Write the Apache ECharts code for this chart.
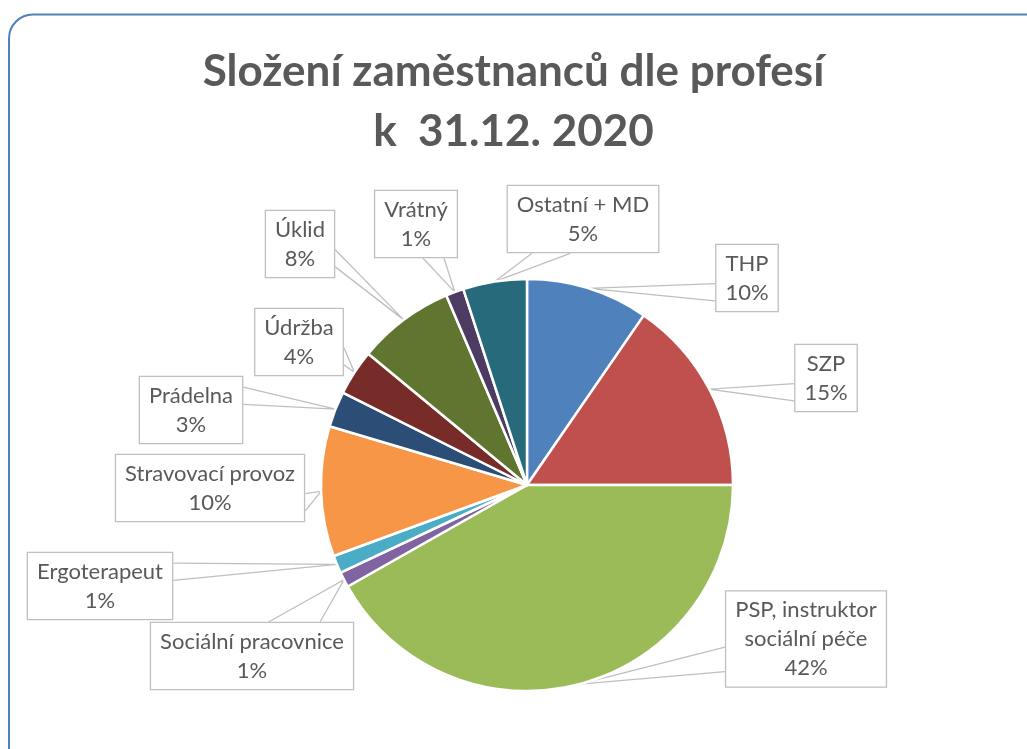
<!DOCTYPE html>
<html lang="cs">
<head>
<meta charset="utf-8">
<title>Složení zaměstnanců dle profesí</title>
<script src="https://cdn.jsdelivr.net/npm/echarts@6/dist/echarts.min.js"></script>
<style>
  html, body { margin: 0; padding: 0; background: #fff; }
  #chart { width: 1027px; height: 749px; }
</style>
</head>
<body>
<div id="chart"></div>
<script>
// Profese (ve směru hodinových ručiček od dvanácté hodiny)
const categories = [
  'THP', 'SZP', 'PSP, instruktor sociální péče', 'Sociální pracovnice',
  'Ergoterapeut', 'Stravovací provoz', 'Prádelna', 'Údržba', 'Úklid',
  'Vrátný', 'Ostatní + MD'
];
// Podíl zaměstnanců v %
const shares = [9.6, 15.4, 41.8, 1.2, 1.4, 10.2, 2.8, 3.6, 7.6, 1.4, 5.0];

const sliceColors = [
  '#4F81BD', '#C0504D', '#9BBB59', '#8064A2', '#4BACC6', '#F79646',
  '#2C4D75', '#772C2A', '#5F7530', '#4D3B62', '#276A7C'
];

// Středy popiskových rámečků (px)
const labelCenters = [
  [747, 278], [826, 378], [806, 639], [252, 656], [100, 586], [210, 488],
  [191, 410], [299, 342], [300, 244], [416, 224], [583, 219]
];

const PIE_CENTER = [527, 485];
const PIE_RADIUS = 206;
const total = shares.reduce((a, b) => a + b, 0);

function wrapName(name, maxLen) {
  const words = name.split(' ');
  const lines = [];
  let cur = '';
  words.forEach(w => {
    const next = cur ? cur + ' ' + w : w;
    if (next.length > maxLen && cur) { lines.push(cur); cur = w; }
    else cur = next;
  });
  if (cur) lines.push(cur);
  return lines.join('\n');
}

// Kotevní bod na okraji výseče (střed úhlu), pokud jej knihovna nepředá
function fallbackAnchor(idx) {
  let before = 0;
  for (let i = 0; i < idx; i++) before += shares[i];
  const mid = (before + shares[idx] / 2) / total * Math.PI * 2;
  return [PIE_CENTER[0] + Math.sin(mid) * PIE_RADIUS, PIE_CENTER[1] - Math.cos(mid) * PIE_RADIUS];
}

const chart = echarts.init(document.getElementById('chart'), null, { renderer: 'canvas' });

chart.setOption({
  backgroundColor: '#ffffff',
  animation: false,
  title: {
    text: 'Složení zaměstnanců dle profesí\nk  31.12. 2020',
    left: 'center',
    top: 37,
    textStyle: {
      fontFamily: 'Lato',
      fontWeight: 'bold',
      fontSize: 44,
      lineHeight: 60,
      color: '#595959'
    }
  },
  graphic: [{
    type: 'rect',
    silent: true,
    shape: { x: 9, y: 14.5, width: 1040, height: 770, r: 24 },
    style: { fill: 'none', stroke: '#4F81BD', lineWidth: 2 }
  }],
  series: [{
    type: 'pie',
    center: PIE_CENTER,
    radius: PIE_RADIUS,
    startAngle: 90,
    clockwise: true,
    avoidLabelOverlap: false,
    data: categories.map((name, i) => ({
      name: name,
      value: shares[i],
      itemStyle: { color: sliceColors[i] }
    })),
    itemStyle: { borderColor: '#ffffff', borderWidth: 2.5 },
    emphasis: { disabled: true },
    label: {
      show: true,
      position: 'outside',
      formatter: p => wrapName(p.name, 19) + '\n' + Math.round(p.value / total * 100) + '%',
      fontFamily: 'Lato',
      fontSize: 22,
      lineHeight: 29,
      color: '#595959',
      align: 'center',
      backgroundColor: '#ffffff',
      borderColor: '#BFBFBF',
      borderWidth: 1.3,
      padding: [4, 9, 4, 9]
    },
    labelLine: {
      show: true,
      length: 10,
      length2: 10,
      lineStyle: { color: '#BFBFBF', width: 1.3 }
    },
    labelLayout: function (p) {
      const c = labelCenters[p.dataIndex];
      const w = p.labelRect.width;
      const h = p.labelRect.height;
      const anchor = (p.labelLinePoints && p.labelLinePoints[0]) || fallbackAnchor(p.dataIndex);
      const left = c[0] - w / 2;
      const top = c[1] - h / 2;
      const dx = anchor[0] - c[0];
      const dy = anchor[1] - c[1];
      const dq = dx * h / w;
      let pts;
      if (Math.abs(dy) > Math.abs(dq)) {
        // callout wedge on the top or bottom edge
        const g1 = dx > 0 ? 7 : 2, g2 = dx > 0 ? 10 : 5;
        const ey = dy > 0 ? top + h : top;
        pts = [[left + w * g1 / 12, ey], [anchor[0], anchor[1]], [left + w * g2 / 12, ey]];
      } else {
        // callout wedge on the left or right edge
        const g1 = dy > 0 ? 7 : 2, g2 = dy > 0 ? 10 : 5;
        const ex = dx > 0 ? left + w : left;
        pts = [[ex, top + h * g1 / 12], [anchor[0], anchor[1]], [ex, top + h * g2 / 12]];
      }
      return {
        x: c[0],
        y: c[1],
        align: 'center',
        verticalAlign: 'middle',
        labelLinePoints: pts
      };
    }
  }]
});
</script>
</body>
</html>
